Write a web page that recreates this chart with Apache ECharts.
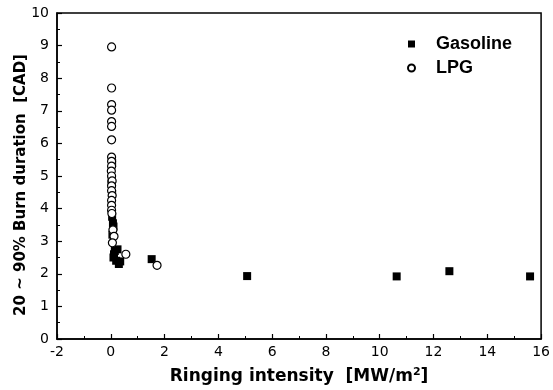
<!DOCTYPE html>
<html><head><meta charset="utf-8">
<script src="https://cdn.jsdelivr.net/npm/echarts@6/dist/echarts.min.js"></script>
<style>html,body{margin:0;padding:0;background:#fff}#c{width:553px;height:390px}</style>
</head><body><div id="c"></div>
<script>
const xTicks = [-2,0,2,4,6,8,10,12,14,16];
const yTicks = [0,1,2,3,4,5,6,7,8,9,10];
const gasX = [0.05,0.03,0.03,0.05,0.05,0.08,0.1,0.06,0.25,0.15,0.1,0.2,0.3,0.35,0.12,1.52,5.07,10.63,12.59,15.59];
const gasY = [5.4,4.9,4.75,4.45,3.75,3.55,3.45,3.2,2.75,2.7,2.5,2.4,2.3,2.38,2.6,2.45,1.93,1.92,2.08,1.92];
const lpgX = [0.03,0.03,0.03,0.03,0.03,0.03,0.03,0.03,0.03,0.03,0.02,0.03,0.05,0.03,0.03,0.05,0.03,0.03,0.03,0.04,0.08,0.12,0.06,0.56,1.72];
const lpgY = [8.96,7.70,7.19,7.02,6.67,6.52,6.11,5.58,5.45,5.3,5.15,5.0,4.85,4.7,4.55,4.4,4.25,4.1,3.95,3.85,3.35,3.15,2.95,2.6,2.26];
const xTitle = 'Ringing intensity  [MW/m{sup|2}]';
const yTitle = '20 ~ 90% Burn duration  [CAD]';

const chart = echarts.init(document.getElementById('c'));
const font = 'DejaVu Sans';
const axisCommon = {
  axisLine:{show:true,onZero:false,lineStyle:{color:'#000',width:1.5}},
  axisTick:{show:true,inside:true,length:5,lineStyle:{color:'#000',width:1.2}},
  minorTick:{show:true,splitNumber:2,length:3,lineStyle:{color:'#000',width:1}},
  splitLine:{show:false},
  axisLabel:{color:'#000',fontFamily:font,fontSize:14}
};
chart.setOption({
  animation:false,
  grid:{left:57,right:10,top:13,bottom:46,show:true,borderColor:'#000',borderWidth:1.5},
  legend:{
    left:402,top:30,orient:'vertical',itemGap:6,itemWidth:7,itemHeight:7,
    textStyle:{fontFamily:'Liberation Sans',fontWeight:'bold',fontSize:18,color:'#000',padding:[0,0,0,16]},
    data:[{name:'Gasoline',icon:'rect'},{name:'LPG',icon:'circle'}]
  },
  graphic:[{type:'text',x:21,y:185,rotation:Math.PI/2,
    style:{text:yTitle,font:'bold 15px "DejaVu Sans"',fill:'#000',align:'center',verticalAlign:'middle'}}],
  xAxis:Object.assign({},axisCommon,{
    type:'value',min:xTicks[0],max:xTicks[xTicks.length-1],interval:2,
    name:xTitle,nameLocation:'middle',nameGap:28,
    nameTextStyle:{fontFamily:font,fontWeight:'bold',fontSize:17,color:'#000',
      rich:{sup:{fontFamily:font,fontWeight:'bold',fontSize:11,verticalAlign:'bottom',padding:[0,0,8,0]}}},
    axisLabel:Object.assign({},axisCommon.axisLabel,{margin:6})
  }),
  yAxis:Object.assign({},axisCommon,{
    type:'value',min:yTicks[0],max:yTicks[yTicks.length-1],interval:1,
    axisLabel:Object.assign({},axisCommon.axisLabel,{margin:8})
  }),
  series:[
    {name:'Gasoline',type:'scatter',symbol:'rect',symbolSize:8,z:2,
     itemStyle:{color:'#000',opacity:1},data:gasX.map((x,i)=>[x,gasY[i]])},
    {name:'LPG',type:'scatter',symbol:'circle',symbolSize:8,z:3,
     itemStyle:{color:'#fff',borderColor:'#000',borderWidth:1.2,opacity:1},data:lpgX.map((x,i)=>[x,lpgY[i]])}
  ]
});
</script></body></html>
